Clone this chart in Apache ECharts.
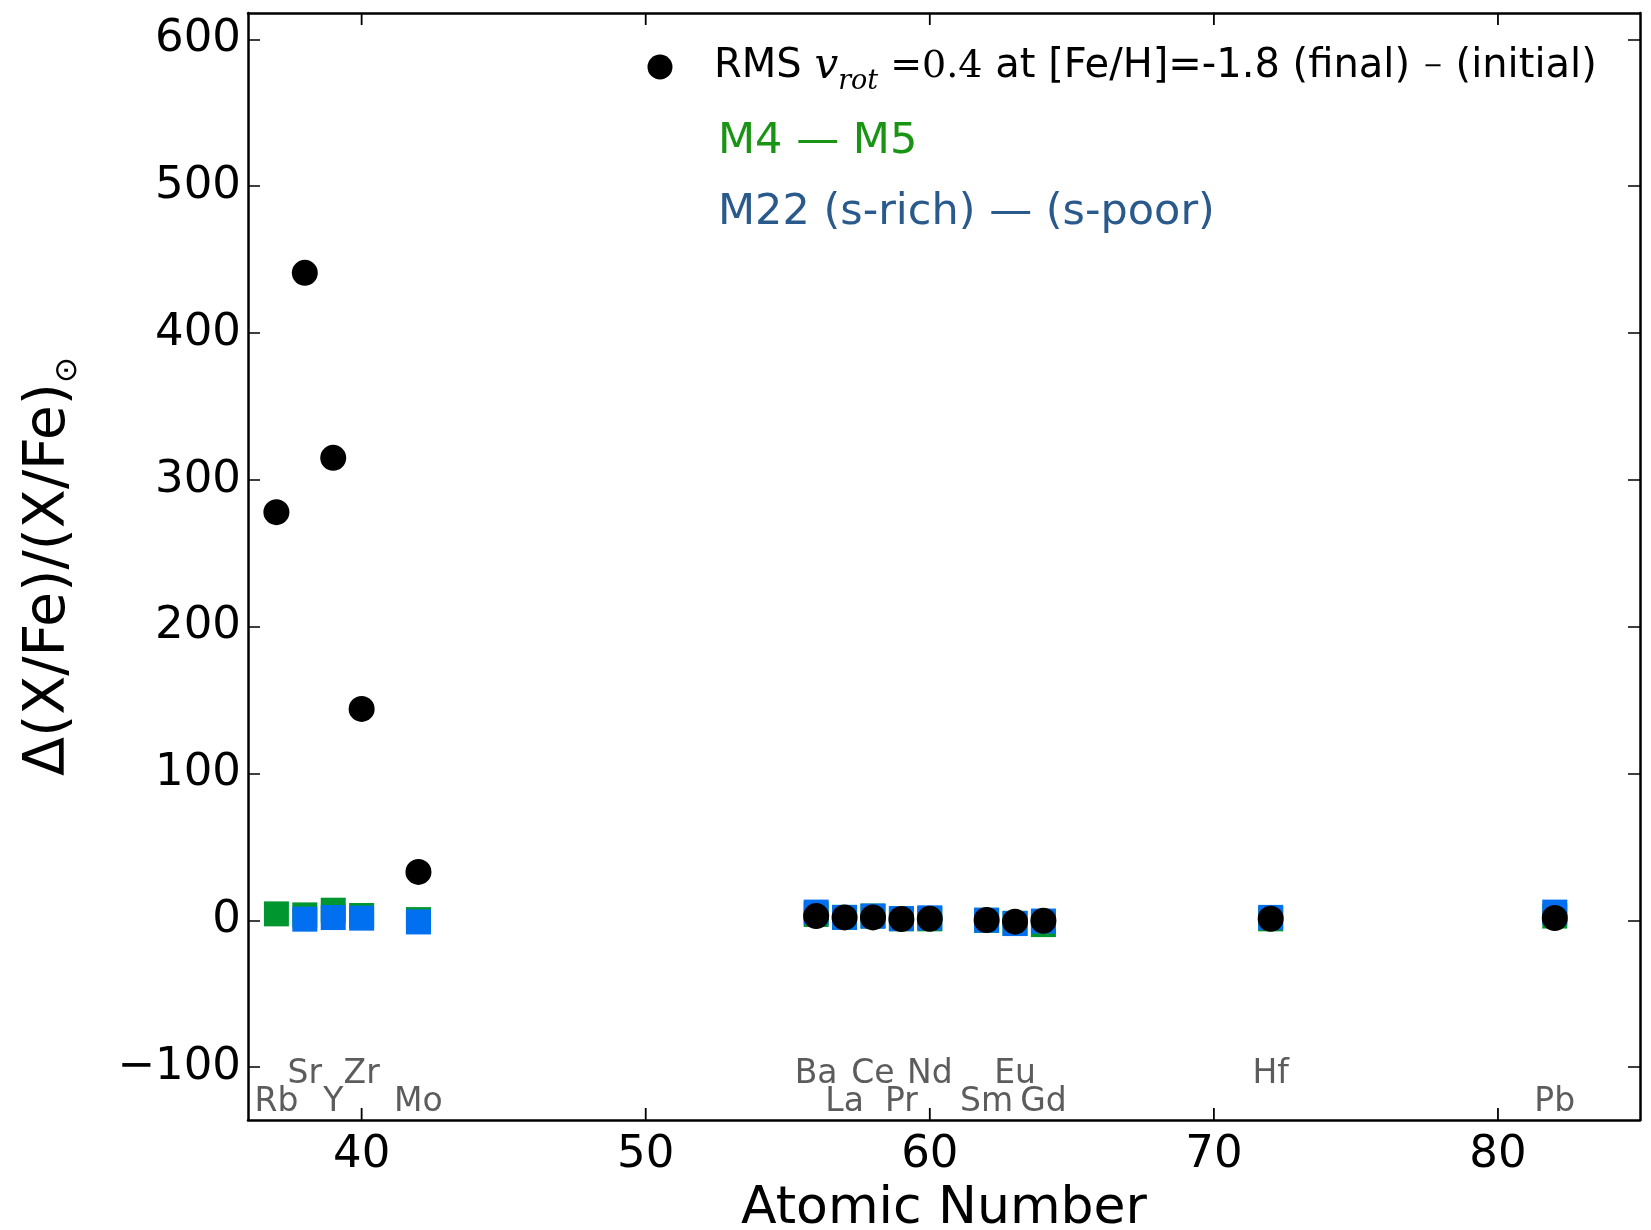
<!DOCTYPE html>
<html>
<head>
<meta charset="utf-8">
<script src="https://cdn.jsdelivr.net/npm/echarts@6/dist/echarts.min.js"></script>
<style>
  html, body { margin: 0; padding: 0; background: #fff; }
  #chart { width: 1651px; height: 1230px; }
</style>
</head>
<body>
<div id="chart"></div>
<script>
// element symbols and their atomic numbers
const elements = ['Rb', 'Sr', 'Y', 'Zr', 'Mo', 'Ba', 'La', 'Ce', 'Pr', 'Nd', 'Sm', 'Eu', 'Gd', 'Hf', 'Pb']
const atomicNumbers = [37, 38, 39, 40, 42, 56, 57, 58, 59, 60, 62, 63, 64, 72, 82]
// 0 = upper label row, 1 = lower label row
const labelRow = [1, 0, 1, 0, 1, 0, 1, 0, 1, 0, 1, 0, 1, 0, 1]

// RMS v_rot=0.4 (final) - (initial)
const rmsValues = [278, 441, 315, 144, 33, 2.9, 2.0, 2.0, 0.9, 1.0, 0.2, -0.9, -0.3, 1.1, 1.6]
// M4 - M5
const m4m5Values = [4.4, 3.7, 6.9, 3.3, 0.5, 4.0, 2.0, 2.9, 1.0, 1.0, 0.0, -2.0, -2.9, 1.0, 2.9]
// M22 (s-rich) - (s-poor), no Rb
const m22Values = [null, 0.8, 1.9, 1.5, -1.1, 5.6, 2.0, 2.9, 1.2, 1.7, 0.1, -2.2, -0.5, 2.0, 5.6]

const xTicks = [40, 50, 60, 70, 80]
const yTicks = [-100, 0, 100, 200, 300, 400, 500, 600]

const X_MIN = 36, X_MAX = 85
const Y_MIN = -136, Y_MAX = 618
const LABEL_Y = [-105, -124]
const FONT = 'DejaVu Sans'
const TICK_LEN = 12

function pairs(values) {
  const out = []
  atomicNumbers.forEach((z, i) => {
    if (values[i] !== null) out.push([z, values[i]])
  })
  return out
}

const frameLine = { show: true, onZero: false, lineStyle: { color: '#000', width: 2.5 } }

function ticks(values) {
  return { show: true, inside: true, length: TICK_LEN, customValues: values, lineStyle: { color: '#000', width: 1.5 } }
}

// inward x ticks on the bottom and top frame lines
function renderXTick(params, api) {
  const v = api.value(0)
  const b = api.coord([v, Y_MIN])
  const t = api.coord([v, Y_MAX])
  const style = { stroke: '#000', lineWidth: 1.8 }
  return {
    type: 'group',
    children: [
      { type: 'line', shape: { x1: b[0], y1: b[1], x2: b[0], y2: b[1] - TICK_LEN }, style: style },
      { type: 'line', shape: { x1: t[0], y1: t[1], x2: t[0], y2: t[1] + TICK_LEN }, style: style }
    ]
  }
}

const option = {
  backgroundColor: '#fff',
  animation: false,
  grid: {
    left: 248,
    top: 13,
    right: 11,
    bottom: 110,
    outerBoundsMode: 'none'
  },
  xAxis: [
    {
      type: 'value',
      min: X_MIN,
      max: X_MAX,
      position: 'bottom',
      axisLine: frameLine,
      axisTick: { show: false },
      axisLabel: {
        customValues: xTicks,
        margin: 13,
        fontSize: 45,
        fontFamily: FONT,
        color: '#000'
      },
      splitLine: { show: false },
      name: 'Atomic Number',
      nameLocation: 'middle',
      nameGap: 63,
      nameTextStyle: { fontSize: 52, fontFamily: FONT, color: '#000' }
    },
    {
      type: 'value',
      min: X_MIN,
      max: X_MAX,
      position: 'top',
      axisLine: frameLine,
      axisTick: { show: false },
      axisLabel: { show: false },
      splitLine: { show: false }
    }
  ],
  yAxis: [
    {
      type: 'value',
      min: Y_MIN,
      max: Y_MAX,
      position: 'left',
      axisLine: frameLine,
      axisTick: ticks(yTicks),
      axisLabel: {
        customValues: yTicks,
        margin: 7,
        fontSize: 45,
        fontFamily: FONT,
        color: '#000',
        formatter: v => String(v).replace('-', '\u2212')
      },
      splitLine: { show: false },
      name: '{m|\u0394(X/Fe)/(X/Fe)}{s|\u2299}',
      nameLocation: 'middle',
      nameGap: 165,
      nameTextStyle: {
        rich: {
          m: { fontSize: 57, fontFamily: FONT, color: '#000', lineHeight: 68 },
          s: { fontSize: 31, fontFamily: FONT, color: '#000', lineHeight: 68, verticalAlign: 'bottom' }
        }
      }
    },
    {
      type: 'value',
      min: Y_MIN,
      max: Y_MAX,
      position: 'right',
      axisLine: frameLine,
      axisTick: ticks(yTicks),
      axisLabel: { show: false },
      splitLine: { show: false }
    }
  ],
  graphic: [
    {
      type: 'circle',
      shape: { cx: 660, cy: 67, r: 12.5 },
      style: { fill: '#000' }
    },
    {
      type: 'text',
      x: 714,
      y: 67,
      style: {
        text: '{a|RMS }{v|v}{s|rot}{m| =0.4}{a| at [Fe/H]=-1.8 (final) }{n|\u2212}{a| (initial)}',
        verticalAlign: 'middle',
        textVerticalAlign: 'middle',
        rich: {
          a: { fontFamily: FONT, fontSize: 40, fill: '#000', lineHeight: 56 },
          v: { fontFamily: 'DejaVu Serif', fontStyle: 'italic', fontSize: 42, fill: '#000', lineHeight: 56 },
          s: { fontFamily: 'DejaVu Serif', fontStyle: 'italic', fontSize: 27, fill: '#000', lineHeight: 56, verticalAlign: 'bottom' },
          m: { fontFamily: 'DejaVu Serif', fontSize: 38, fill: '#000', lineHeight: 56 },
          n: { fontFamily: FONT, fontSize: 24, fill: '#000', lineHeight: 56 }
        }
      }
    },
    {
      type: 'text',
      x: 718,
      y: 142,
      style: {
        text: 'M4 \u2014 M5',
        font: '43px "DejaVu Sans"',
        fill: '#1a9414',
        verticalAlign: 'middle',
        textVerticalAlign: 'middle'
      }
    },
    {
      type: 'text',
      x: 718,
      y: 213,
      style: {
        text: 'M22 (s-rich) \u2014 (s-poor)',
        font: '43px "DejaVu Sans"',
        fill: '#2a5a8c',
        verticalAlign: 'middle',
        textVerticalAlign: 'middle'
      }
    }
  ],
  series: [
    {
      name: 'xticks',
      type: 'custom',
      silent: true,
      clip: false,
      renderItem: renderXTick,
      data: xTicks.map(v => [v, 0])
    },
    {
      name: 'M4 - M5',
      type: 'scatter',
      symbol: 'rect',
      symbolSize: 25,
      itemStyle: { color: '#00962f', opacity: 1 },
      data: pairs(m4m5Values)
    },
    {
      name: 'M22',
      type: 'scatter',
      symbol: 'rect',
      symbolSize: 25,
      itemStyle: { color: '#006ff0', opacity: 1 },
      data: pairs(m22Values)
    },
    {
      name: 'RMS',
      type: 'scatter',
      symbol: 'circle',
      symbolSize: 26,
      itemStyle: { color: '#000', opacity: 1 },
      data: pairs(rmsValues)
    },
    {
      name: 'labels',
      type: 'scatter',
      silent: true,
      symbolSize: 0,
      label: {
        show: true,
        position: 'inside',
        fontSize: 33,
        fontFamily: FONT,
        color: '#333',
        formatter: p => p.data[2]
      },
      data: atomicNumbers.map((z, i) => [z, LABEL_Y[labelRow[i]], elements[i]])
    }
  ]
}

const chart = echarts.init(document.getElementById('chart'))
chart.setOption(option)
</script>
</body>
</html>
